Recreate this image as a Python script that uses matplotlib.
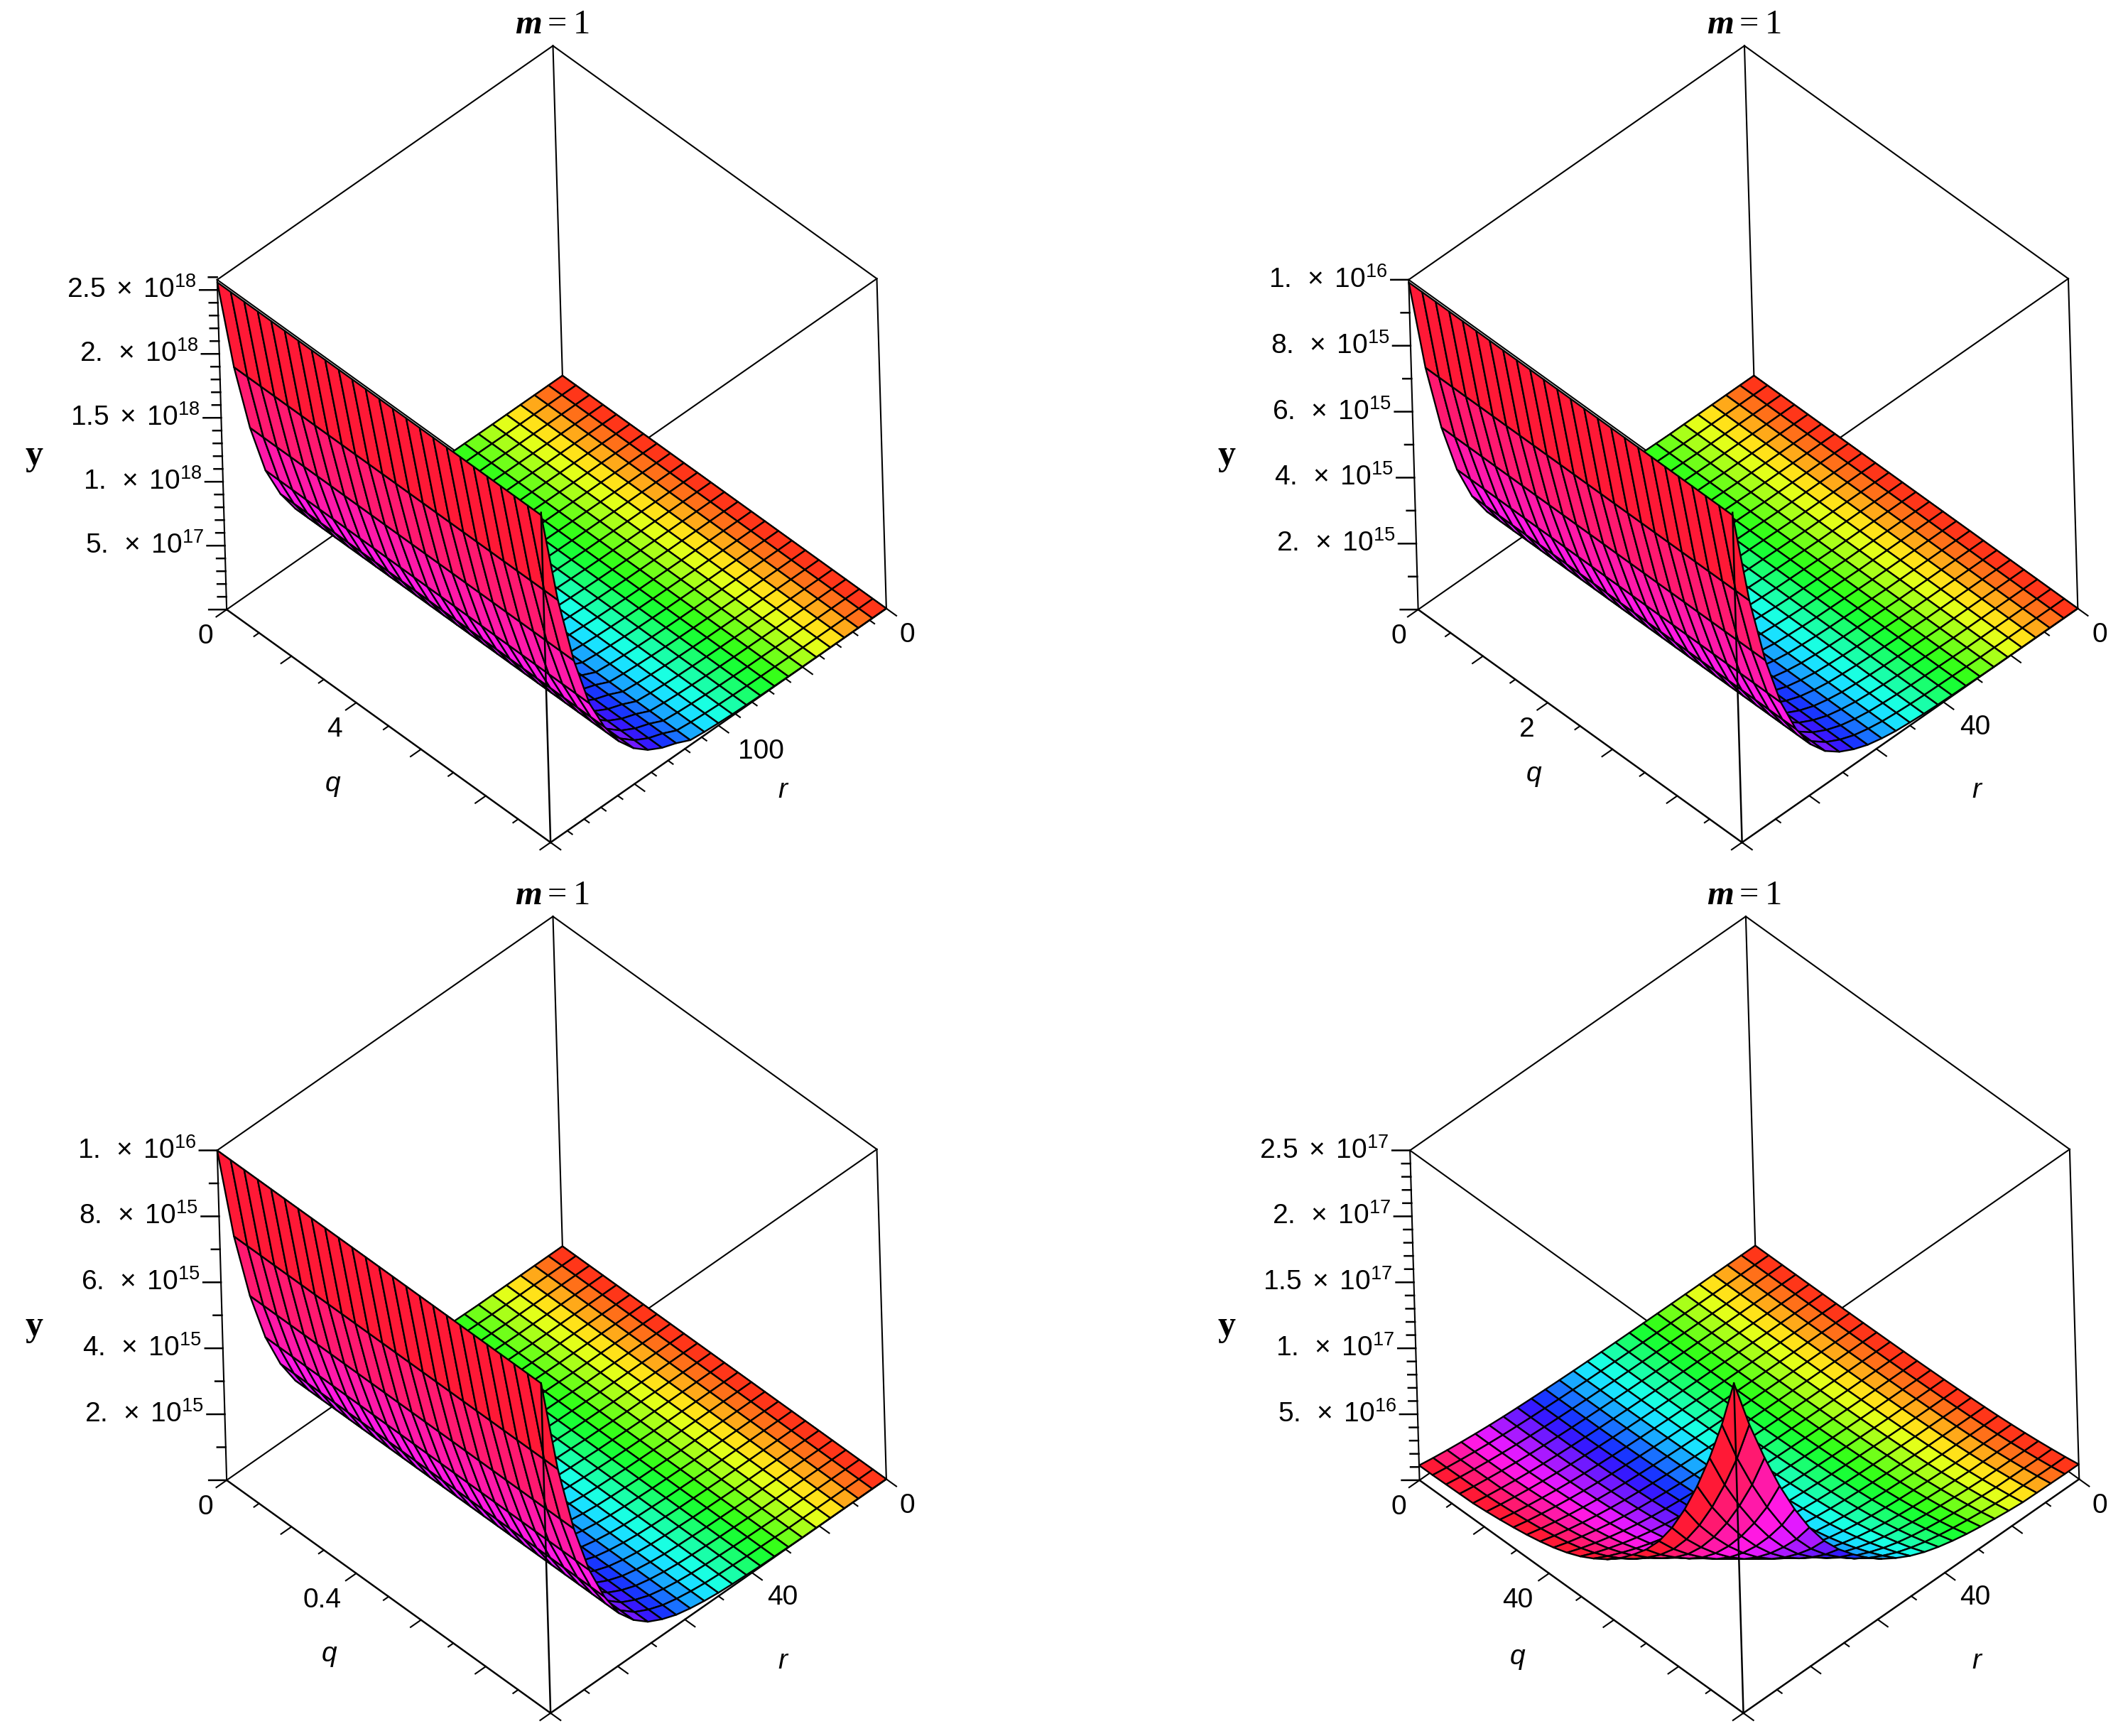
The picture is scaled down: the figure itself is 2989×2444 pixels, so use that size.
import numpy as np
import matplotlib
matplotlib.use("Agg")
import matplotlib.pyplot as plt
from matplotlib.colors import hsv_to_rgb
from mpl_toolkits.mplot3d import proj3d

W, H = 2989, 2444

# wall profiles along r, 25 grid points (index 0 is r=0)
y_r_a = [0, 0, 0, 0, 0, 0, 0.001e18, 0.002e18, 0.003e18, 0.005e18, 0.008e18, 0.012e18, 0.018e18, 0.026e18,
         0.038e18, 0.09e18, 0.13e18, 0.19e18, 0.28e18, 0.41e18, 0.60e18, 0.86e18, 1.27e18, 1.82e18, 2.56e18]
y_r_b = [0, 0, 0, 0, 0, 0, 0, 0.001e16, 0.002e16, 0.003e16, 0.004e16, 0.006e16, 0.009e16, 0.013e16,
         0.020e16, 0.030e16, 0.046e16, 0.068e16, 0.10e16, 0.15e16, 0.226e16, 0.336e16, 0.493e16, 0.704e16, 0.992e16]
y_r_c = [0, 0, 0, 0, 0, 0, 0, 0.001e16, 0.002e16, 0.003e16, 0.005e16, 0.007e16, 0.010e16, 0.015e16,
         0.022e16, 0.032e16, 0.048e16, 0.07e16, 0.105e16, 0.155e16, 0.235e16, 0.345e16, 0.50e16, 0.71e16, 1.0e16]
# last panel rises towards both far edges, fraction of the top value per grid point
y_frac_d = [0.045, 0.045, 0.046, 0.047, 0.048, 0.052, 0.057, 0.063, 0.070, 0.079, 0.090, 0.104, 0.122,
            0.145, 0.172, 0.205, 0.245, 0.29, 0.345, 0.415, 0.50, 0.60, 0.715, 0.845, 1.0]
y_top_d = 2.5e17

q_max = [10, 5, 1, 100]
r_max = [200, 100, 100, 100]
y_max = [2.58e18, 1.0e16, 1.0e16, 2.5e17]

q_step = [(1, 2), (0.5, 1), (0.1, 0.2), (10, 20)]
r_step = [(10, 50), (10, 20), (10, 20), (10, 20)]
y_step = [(1e17, 5e17), (1e15, 2e15), (1e15, 2e15), (1e16, 5e16)]

q_label = ["4", "2", "0.4", "40"]
r_label = ["100", "40", "40", "40"]
y_labels = [
    [(5e17, "5.", 17), (1e18, "1.", 18), (1.5e18, "1.5", 18), (2e18, "2.", 18), (2.5e18, "2.5", 18)],
    [(2e15, "2.", 15), (4e15, "4.", 15), (6e15, "6.", 15), (8e15, "8.", 15), (1e16, "1.", 16)],
    [(2e15, "2.", 15), (4e15, "4.", 15), (6e15, "6.", 15), (8e15, "8.", 15), (1e16, "1.", 16)],
    [(5e16, "5.", 16), (1e17, "1.", 17), (1.5e17, "1.5", 17), (2e17, "2.", 17), (2.5e17, "2.5", 17)],
]

# positions in the 1568 wide view of the picture
centers = [(407.5, 328), (1287.5, 328), (407.5, 971), (1288.5, 971)]
q_tick_xy = [(247, 539), (1128, 539), (238, 1182), (1121, 1182)]
r_tick_xy = [(562, 555), (1459, 537), (578, 1180), (1459, 1180)]
q_name_xy = [(246, 579), (1133, 572), (243, 1222), (1121, 1224)]
r_name_xy = [(578, 584), (1460, 584), (578, 1227), (1460, 1227)]
zero_l_xy = [(152, 470), (1033, 470), (152, 1113), (1033, 1113)]
zero_r_xy = [(670, 469), (1551, 469), (670, 1112), (1551, 1112)]
y_name_xy = [(25, 337), (906, 337), (25, 980), (906, 980)]
title_xy = [(408, 18), (1288, 18), (408, 661), (1288, 661)]

plt.rcParams["font.family"] = ["Liberation Sans", "DejaVu Sans"]
plt.rcParams["mathtext.fontset"] = "custom"
plt.rcParams["mathtext.rm"] = "Liberation Sans"
plt.rcParams["mathtext.it"] = "Liberation Sans:italic"
plt.rcParams["mathtext.bf"] = "Liberation Serif:bold"
plt.rcParams["mathtext.bfit"] = "Liberation Serif:italic:bold"
plt.rcParams["mathtext.cal"] = "Liberation Serif"

SCALE = W / 1568
AX_PX = 1400
TICK_FS = 28
LW = 1.7


def fig_xy(p):
    return p[0] * SCALE / W, 1 - p[1] * SCALE / H


def ticks(top, step):
    return np.arange(0, int(round(top / step)) + 1) * step


fig = plt.figure(figsize=(W / 100, H / 100), dpi=100, facecolor="white")

for i in range(4):
    cx, cy = centers[i]
    left = (cx * SCALE - 0.5135 * AX_PX) / W
    bottom = (H - cy * SCALE - 0.5135 * AX_PX) / H
    ax = fig.add_axes([left, bottom, AX_PX / W, AX_PX / H], projection="3d", proj_type="ortho")
    ax.view_init(elev=45, azim=47.2, roll=1.65)
    ax.set_box_aspect((1, 1, 1), zoom=0.789)
    ax.set_axis_off()
    ax.patch.set_visible(False)
    ax.computed_zorder = False

    qm, rm, ym = q_max[i], r_max[i], y_max[i]
    q_grid = np.linspace(0, qm, 25)
    r_grid = np.linspace(0, rm, 25)
    R, Q = np.meshgrid(r_grid, q_grid)
    if i == 3:
        frac = np.array(y_frac_d)
        Y = np.outer(frac, frac) * y_top_d
    else:
        prof = np.array([y_r_a, y_r_b, y_r_c][i])
        Y = np.tile(prof, (25, 1))

    # hue follows r from red round to red again
    hsv = np.ones((25, 25, 3))
    hsv[..., 0] = (np.arange(25) + 0.5).clip(0, 24) / 24 % 1
    hsv[..., 1] = 0.9
    fc = np.dstack([hsv_to_rgb(hsv), np.ones((25, 25))])
    ax.plot_surface(R, Q, Y, facecolors=fc, rstride=1, cstride=1, edgecolor="black",
                    linewidth=LW, shade=False, zorder=2)

    # box edges, the surface hides most of them
    box = [((0, 0, 0), (0, 0, ym)), ((rm, 0, 0), (rm, 0, ym)), ((0, qm, 0), (0, qm, ym)),
           ((0, 0, ym), (rm, 0, ym)), ((0, 0, ym), (0, qm, ym)),
           ((rm, 0, ym), (rm, qm, ym)), ((0, qm, ym), (rm, qm, ym)),
           ((0, 0, 0), (rm, 0, 0)), ((0, 0, 0), (0, qm, 0))]
    for a, b in box:
        ax.plot(*zip(a, b), color="black", lw=1.5, zorder=1)
    front = [((rm, qm, 0), (rm, qm, ym)), ((rm, 0, 0), (rm, qm, 0)), ((0, qm, 0), (rm, qm, 0))]
    for a, b in front:
        ax.plot(*zip(a, b), color="black", lw=1.8, zorder=3)

    # y axis ticks run flat to the left
    minor, major = y_step[i]
    for t in ticks(ym, minor):
        is_major = abs(t / major - round(t / major)) < 1e-6
        d = 0.0269 if is_major else 0.0129
        ax.plot([rm, rm * (1 + d)], [0, -qm * d], [t, t], color="black", lw=1.8, zorder=3)

    minor, major = q_step[i]
    for t in ticks(qm, minor):
        is_major = abs(t / major - round(t / major)) < 1e-6
        d = 0.031 if is_major else 0.015
        ax.plot([rm, rm * (1 + d)], [t, t], [0, 0], color="black", lw=1.5, zorder=3)

    minor, major = r_step[i]
    for t in ticks(rm, minor):
        is_major = abs(t / major - round(t / major)) < 1e-6
        d = 0.031 if is_major else 0.015
        ax.plot([t, t], [qm, qm * (1 + d)], [0, 0], color="black", lw=1.5, zorder=3)

    ax.set_xlim(0, rm)
    ax.set_ylim(0, qm)
    ax.set_zlim(0, ym)

    # y tick labels go next to the tick ends, worked out through the axes projection
    ax.apply_aspect()
    proj = ax.get_proj()
    for val, num, power in y_labels[i]:
        x2, y2, _ = proj3d.proj_transform(rm * 1.0323, -qm * 0.0323, val, proj)
        px, py = ax.transData.transform((x2, y2))
        fig.text(px / W, py / H, rf"${num}\;\times\;10^{{{power}}}$", ha="right", va="center",
                 fontsize=TICK_FS)

    for p, s in [(q_tick_xy[i], q_label[i]), (r_tick_xy[i], r_label[i]),
                 (zero_l_xy[i], "0"), (zero_r_xy[i], "0")]:
        fig.text(*fig_xy(p), s, ha="center", va="center", fontsize=TICK_FS)
    fig.text(*fig_xy(q_name_xy[i]), "q", style="italic", ha="center", va="center", fontsize=TICK_FS)
    fig.text(*fig_xy(r_name_xy[i]), "r", style="italic", ha="center", va="center", fontsize=TICK_FS)
    fig.text(*fig_xy(y_name_xy[i]), "y", family="Liberation Serif", weight="bold", ha="center",
             va="center", fontsize=36)
    fig.text(*fig_xy(title_xy[i]), r"$\mathbfit{m}\mathcal{=}\mathcal{1}$", ha="center", va="center",
             fontsize=35)

fig.savefig("out.png", dpi=100, facecolor="white")
